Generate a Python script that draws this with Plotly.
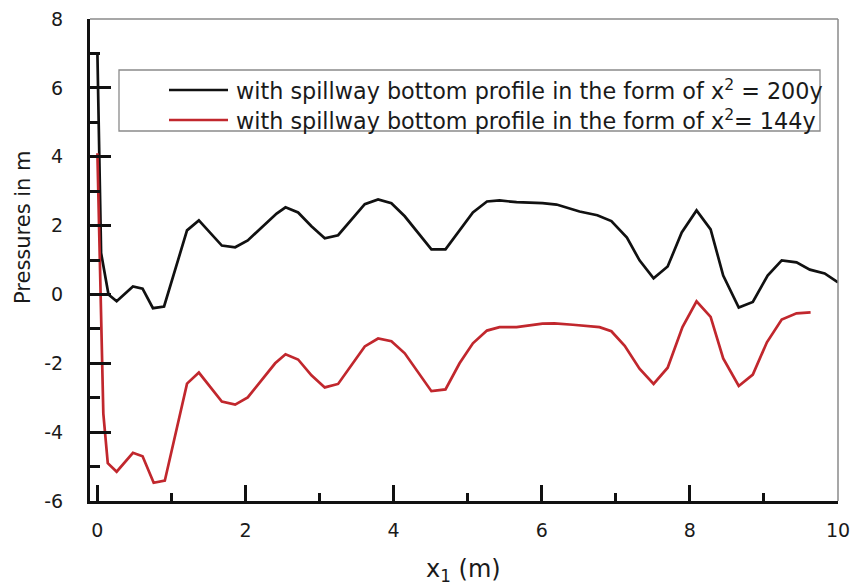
import plotly.graph_objects as go

# ---- data ----
black_x = [0.0, 0.05, 0.15, 0.26, 0.48, 0.61, 0.75, 0.90, 1.21, 1.37, 1.68, 1.86, 2.03,
           2.42, 2.54, 2.71, 2.89, 3.07, 3.25, 3.61, 3.79, 3.97, 4.15, 4.51, 4.70, 4.89,
           5.07, 5.26, 5.43, 5.66, 6.01, 6.20, 6.51, 6.75, 6.94, 7.15, 7.32, 7.51, 7.70,
           7.89, 8.09, 8.28, 8.45, 8.66, 8.85, 9.05, 9.24, 9.44, 9.62, 9.82, 10.0]
black_y = [7.0, 1.2, 0.0, -0.2, 0.23, 0.17, -0.4, -0.35, 1.86, 2.15, 1.42, 1.37, 1.57,
           2.35, 2.53, 2.38, 1.98, 1.63, 1.72, 2.62, 2.76, 2.65, 2.27, 1.31, 1.31, 1.86,
           2.38, 2.70, 2.73, 2.68, 2.65, 2.61, 2.41, 2.30, 2.13, 1.65, 0.99, 0.47, 0.81,
           1.80, 2.44, 1.89, 0.55, -0.38, -0.22, 0.55, 0.99, 0.93, 0.72, 0.61, 0.35]

red_x = [0.0, 0.08, 0.14, 0.26, 0.48, 0.61, 0.76, 0.91, 1.21, 1.37, 1.68, 1.86, 2.03,
         2.40, 2.54, 2.71, 2.89, 3.07, 3.25, 3.61, 3.79, 3.97, 4.15, 4.51, 4.70, 4.89,
         5.07, 5.26, 5.43, 5.66, 6.01, 6.17, 6.42, 6.78, 6.94, 7.12, 7.32, 7.51, 7.70,
         7.90, 8.09, 8.28, 8.45, 8.66, 8.85, 9.04, 9.24, 9.44, 9.63]
red_y = [4.1, -3.46, -4.9, -5.15, -4.6, -4.7, -5.47, -5.41, -2.59, -2.27, -3.11, -3.2, -2.99,
         -2.0, -1.74, -1.89, -2.35, -2.7, -2.6, -1.51, -1.28, -1.36, -1.71, -2.81, -2.76, -2.0,
         -1.42, -1.05, -0.95, -0.95, -0.85, -0.84, -0.88, -0.95, -1.07, -1.49, -2.16, -2.6, -2.13,
         -0.95, -0.2, -0.65, -1.86, -2.66, -2.33, -1.39, -0.73, -0.55, -0.52]

series_names = ["with spillway bottom profile in the form of x<sup>2</sup> = 200y",
                "with spillway bottom profile in the form of x<sup>2</sup>= 144y"]
x_ticks = [0, 2, 4, 6, 8, 10]
y_ticks = [-6, -4, -2, 0, 2, 4, 6, 8]
x_title = "x<sub>1</sub> (m)"
y_title = "Pressures in m"

# ---- layout geometry (page pixels) ----
W, H = 854, 586
P_L, P_R, P_T, P_B = 90, 838, 19, 501          # plot area in page pixels
ML, MT, MR, MB = P_L, P_T, W - P_R, H - P_B
PW, PH = P_R - P_L, P_B - P_T
FONT = "DejaVu Sans"
TXT = "#1a1a1a"
BLACK = "#111111"
RED = "#c1272d"


def px(x):
    return (x - P_L) / PW


def py(y):
    return (P_B - y) / PH


fig = go.Figure()
fig.add_trace(go.Scatter(x=black_x, y=black_y, mode="lines", name=series_names[0],
                         line=dict(color=BLACK, width=2.7), showlegend=False))
fig.add_trace(go.Scatter(x=red_x, y=red_y, mode="lines", name=series_names[1],
                         line=dict(color=RED, width=2.7), showlegend=False))

shapes = [
    dict(type="line", xref="paper", yref="paper", x0=0, x1=1, y0=1, y1=1,
         line=dict(color="#8a8a8a", width=1.5)),
    dict(type="line", xref="paper", yref="paper", x0=1, x1=1, y0=0, y1=1,
         line=dict(color="#8a8a8a", width=1.5)),
    dict(type="rect", xref="paper", yref="paper", x0=px(119), x1=px(820), y0=py(131), y1=py(70),
         line=dict(color="#8a8a8a", width=1.3), fillcolor="white", layer="below"),
    dict(type="line", xref="paper", yref="paper", x0=px(169), x1=px(228), y0=py(90), y1=py(90),
         line=dict(color=BLACK, width=2.7)),
    dict(type="line", xref="paper", yref="paper", x0=px(169), x1=px(228), y0=py(120), y1=py(120),
         line=dict(color=RED, width=2.7)),
]

annotations = [
    dict(text=series_names[0], xref="paper", yref="paper", x=px(234), y=py(90),
         xanchor="left", yanchor="middle", showarrow=False,
         font=dict(family=FONT, size=22.3, color=TXT)),
    dict(text=series_names[1], xref="paper", yref="paper", x=px(234), y=py(120),
         xanchor="left", yanchor="middle", showarrow=False,
         font=dict(family=FONT, size=22.3, color=TXT)),
    dict(text=y_title, xref="paper", yref="paper", x=px(23), y=py(227), textangle=-90,
         xanchor="center", yanchor="middle", showarrow=False,
         font=dict(family=FONT, size=21, color=TXT)),
    dict(text=x_title, xref="paper", yref="paper", x=px(463), y=py(570),
         xanchor="center", yanchor="middle", showarrow=False,
         font=dict(family=FONT, size=24, color=TXT)),
]

fig.update_layout(
    width=W, height=H,
    margin=dict(l=ML, r=MR, t=MT, b=MB, autoexpand=False),
    paper_bgcolor="white", plot_bgcolor="white",
    shapes=shapes, annotations=annotations,
    showlegend=False,
    font=dict(family=FONT, color=TXT),
)

fig.update_xaxes(range=[-0.1, 10], tickvals=x_ticks, ticktext=[str(v) for v in x_ticks],
                 automargin=False, ticklabeloverflow="allow",
                 showgrid=False, zeroline=False, showline=True, linecolor=BLACK, linewidth=3,
                 ticks="inside", ticklen=16, tickwidth=3, tickcolor=BLACK,
                 minor=dict(dtick=1, tick0=0, ticks="inside", ticklen=8, tickwidth=3,
                            tickcolor=BLACK, showgrid=False),
                 tickfont=dict(family=FONT, size=19, color=TXT),
                 ticklabelstandoff=10)
fig.update_yaxes(range=[-6, 8], tickvals=y_ticks, ticktext=[str(v) for v in y_ticks],
                 automargin=False, ticklabeloverflow="allow",
                 showgrid=False, zeroline=False, showline=True, linecolor=BLACK, linewidth=3,
                 ticks="inside", ticklen=21, tickwidth=3, tickcolor=BLACK,
                 minor=dict(dtick=1, tick0=0, ticks="inside", ticklen=10, tickwidth=3,
                            tickcolor=BLACK, showgrid=False),
                 tickfont=dict(family=FONT, size=19, color=TXT),
                 ticklabelstandoff=20)

# remove the browser's default 8px body margin so the figure fills the window exactly
fig.write_html("out.html", config={"displayModeBar": False},
               post_script="document.body.style.margin='0';document.body.style.overflow='hidden';")
